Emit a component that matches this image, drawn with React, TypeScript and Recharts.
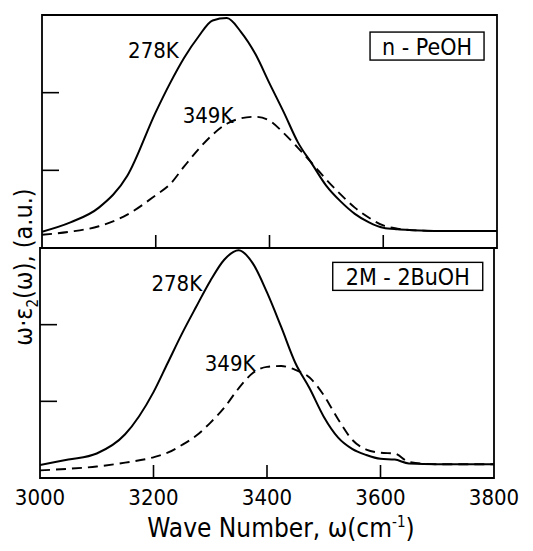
import React from 'react';
import { LineChart, Line, XAxis, YAxis, ReferenceDot, ReferenceArea } from 'recharts';

// wavenumber grid (cm^-1) shared by all four traces
const waves = [3000, 3050, 3100, 3150, 3200, 3225, 3250, 3275, 3300, 3325, 3350, 3375, 3400, 3425, 3450, 3475, 3500, 3525, 3550, 3575, 3600, 3625, 3650, 3700, 3800];

// n-PeOH
const peoh278 = [0.21, 0.33, 0.52, 0.93, 1.75, 2.12, 2.45, 2.72, 2.93, 2.96, 2.78, 2.5, 2.12, 1.75, 1.36, 1.08, 0.8, 0.6, 0.44, 0.33, 0.26, 0.24, 0.23, 0.22, 0.22];
const peoh349 = [0.17, 0.21, 0.28, 0.43, 0.68, 0.82, 1.05, 1.27, 1.46, 1.6, 1.67, 1.69, 1.64, 1.48, 1.29, 1.09, 0.88, 0.69, 0.52, 0.39, 0.29, 0.25, 0.23, 0.22, 0.22];

// 2M-2BuOH
const buoh278 = [0.17, 0.24, 0.32, 0.57, 1.12, 1.5, 1.88, 2.23, 2.57, 2.85, 2.97, 2.8, 2.42, 1.97, 1.5, 1.17, 0.8, 0.53, 0.38, 0.3, 0.25, 0.24, 0.19, 0.18, 0.18];
const buoh349 = [0.1, 0.12, 0.15, 0.2, 0.27, 0.33, 0.43, 0.55, 0.72, 0.92, 1.17, 1.37, 1.45, 1.46, 1.41, 1.31, 1.08, 0.77, 0.5, 0.37, 0.33, 0.32, 0.21, 0.18, 0.18];

const xTicks = [3000, 3200, 3400, 3600, 3800];
const innerXTicks = [3200, 3400, 3600];
const yTicks = [1, 2];

const topData = waves.map((w, i) => ({ w, cold: peoh278[i], hot: peoh349[i] }));
const botData = waves.map((w, i) => ({ w, cold: buoh278[i], hot: buoh349[i] }));

const FONT = '"DejaVu Sans Condensed", "Liberation Sans Narrow", "DejaVu Sans", sans-serif';

// ticks point into the frame, labels (bottom panel only) sit under it
// (paths, not <line>: lines did not show up in the render)
const XTick: React.FC<any> = ({ x, y, payload, showLabel }) => (
  <g>
    {innerXTicks.includes(payload.value) && (
      <path d={`M${x},${y}V${y - 13}`} stroke="#000" strokeWidth={1.6} fill="none" />
    )}
    {showLabel && (
      <text x={x} y={y + 27} textAnchor="middle" fontSize={22} fill="#000" fontFamily={FONT}>
        {payload.value}
      </text>
    )}
  </g>
);

const YTick: React.FC<any> = ({ x, y }) => (
  <path d={`M${x},${y}H${x + 17}`} stroke="#000" strokeWidth={1.6} fill="none" />
);

const BoxLabel: React.FC<any> = ({ viewBox, text, w, h }) => {
  const { x, y } = viewBox;
  return (
    <g>
      <rect x={x - w / 2} y={y - h / 2} width={w} height={h} fill="#fff" stroke="#000" strokeWidth={1.4} />
      <text x={x} y={y + 1} textAnchor="middle" dominantBaseline="central" fontSize={23} fill="#000" fontFamily={FONT}>
        {text}
      </text>
    </g>
  );
};

const TitleLabel: React.FC<any> = ({ viewBox }) => {
  const cx = viewBox.x + viewBox.width / 2 + 14;
  return (
    <text x={cx} y={297} textAnchor="middle" fontSize={26} fill="#000" fontFamily={FONT}>
      Wave Number, ω(cm
      <tspan dy={-10} fontSize={15}>-1</tspan>
      <tspan dy={10}>)</tspan>
    </text>
  );
};

const kLabel = (v: string) => ({ value: v, position: 'center' as const, fill: '#000', fontSize: 22, fontFamily: FONT });

const Panel: React.FC<any> = ({ data, height, margin, bottom, children }) => (
  <LineChart width={533} height={height} data={data} margin={margin}>
    <XAxis
      dataKey="w"
      type="number"
      domain={[3000, 3800]}
      allowDataOverflow
      ticks={bottom ? xTicks : innerXTicks}
      tick={<XTick showLabel={bottom} />}
      tickSize={0}
      tickMargin={0}
      tickLine={false}
      axisLine={false}
      height={bottom ? 73 : 1}
      label={bottom ? <TitleLabel /> : undefined}
    />
    <YAxis
      type="number"
      domain={[0, 3]}
      allowDataOverflow
      ticks={yTicks}
      tick={<YTick />}
      tickSize={0}
      tickMargin={0}
      tickLine={false}
      axisLine={false}
      width={1}
    />
    <ReferenceArea x1={3000} x2={3800} y1={0} y2={3} fill="none" fillOpacity={0} stroke="#000" strokeWidth={1.8} />
    <Line type="monotone" dataKey="hot" stroke="#000" strokeWidth={1.9} strokeDasharray="10 6" dot={false} isAnimationActive={false} />
    <Line type="monotone" dataKey="cold" stroke="#000" strokeWidth={2} dot={false} isAnimationActive={false} />
    {children}
  </LineChart>
);

export default function App() {
  return (
    <div style={{ position: 'absolute', left: 0, top: 0, width: 533, height: 551, background: '#fff', fontFamily: FONT }}>
      <div style={{ position: 'absolute', left: 0, top: 0 }}>
        <Panel data={topData} height={250} margin={{ top: 15, left: 41, right: 36, bottom: 1 }} bottom={false}>
          <ReferenceDot x={3196} y={2.55} r={0} fill="none" stroke="none" label={kLabel('278K')} />
          <ReferenceDot x={3292} y={1.71} r={0} fill="none" stroke="none" label={kLabel('349K')} />
          <ReferenceDot x={3677} y={2.6} r={0} fill="none" stroke="none" label={<BoxLabel text="n - PeOH" w={114} h={28} />} />
        </Panel>
      </div>
      <div style={{ position: 'absolute', left: 0, top: 240 }}>
        <Panel data={botData} height={311} margin={{ top: 8, left: 39, right: 39, bottom: 0 }} bottom>
          <ReferenceDot x={3241} y={2.54} r={0} fill="none" stroke="none" label={kLabel('278K')} />
          <ReferenceDot x={3335} y={1.5} r={0} fill="none" stroke="none" label={kLabel('349K')} />
          <ReferenceDot x={3648} y={2.63} r={0} fill="none" stroke="none" label={<BoxLabel text="2M - 2BuOH" w={150} h={28} />} />
        </Panel>
      </div>
      <div
        style={{
          position: 'absolute',
          left: 25,
          top: 267,
          transform: 'translate(-50%, -50%) rotate(-90deg)',
          whiteSpace: 'nowrap',
          fontSize: 25,
          color: '#000',
        }}
      >
        ω·ε<sub style={{ fontSize: 15 }}>2</sub>(ω), (a.u.)
      </div>
    </div>
  );
}
